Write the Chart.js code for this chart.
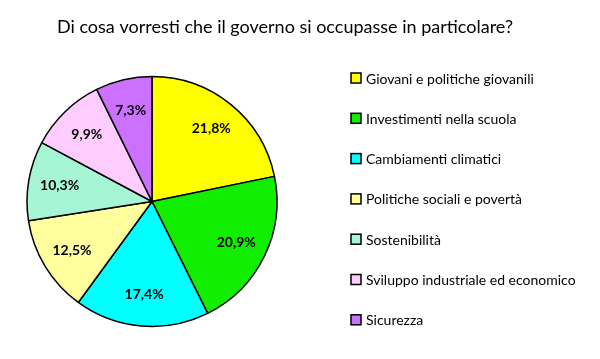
<!DOCTYPE html>
<html>
<head>
<meta charset="utf-8">
<script src="https://cdn.jsdelivr.net/npm/chart.js@4"></script>
<style>
  html, body { margin: 0; padding: 0; background: #fff; }
  #wrap { width: 600px; height: 359px; }
</style>
</head>
<body>
<div id="wrap"><canvas id="graficoTemi" width="600" height="359"></canvas></div>
<script>
const titolo = 'Di cosa vorresti che il governo si occupasse in particolare?';
const categorie = [
    'Giovani e politiche giovanili',
    'Investimenti nella scuola',
    'Cambiamenti climatici',
    'Politiche sociali e povertà',
    'Sostenibilità',
    'Sviluppo industriale ed economico',
    'Sicurezza'
];
const percentuali = [21.8, 20.9, 17.4, 12.5, 10.3, 9.9, 7.3];
const colori = ['#ffff00', '#11ee00', '#00ffff', '#ffff9e', '#a6f5d4', '#ffccff', '#cc70ff'];

const FONT = 'Lato, "Open Sans", sans-serif';

// titolo, etichette e legenda disegnati a mano
const testi = {
    id: 'testi',
    afterDraw(chart) {
        const ctx = chart.ctx;
        ctx.save();
        ctx.fillStyle = '#000';
        ctx.textBaseline = 'middle';

        // titolo
        ctx.font = '18px ' + FONT;
        ctx.textAlign = 'left';
        ctx.fillText(titolo, 57, 27);

        // percentuali dentro le fette
        const meta = chart.getDatasetMeta(0);
        ctx.font = 'bold 14px ' + FONT;
        ctx.textAlign = 'center';
        meta.data.forEach((arc, i) => {
            const p = arc.getProps(['x', 'y', 'startAngle', 'endAngle', 'outerRadius'], true);
            const a = (p.startAngle + p.endAngle) / 2;
            const r = p.outerRadius * 0.75;
            const txt = percentuali[i].toFixed(1).replace('.', ',') + '%';
            ctx.fillText(txt, p.x + Math.cos(a) * r, p.y + Math.sin(a) * r);
        });

        // legenda
        ctx.font = '14px ' + FONT;
        ctx.textAlign = 'left';
        categorie.forEach((c, i) => {
            const y = 78 + i * 40.3;
            ctx.fillStyle = colori[i];
            ctx.fillRect(351, y - 5, 10, 10);
            ctx.strokeStyle = '#000';
            ctx.lineWidth = 1.5;
            ctx.strokeRect(351, y - 5, 10, 10);
            ctx.fillStyle = '#000';
            ctx.fillText(c, 366, y + 1);
        });
        ctx.restore();
    }
};

new Chart(document.getElementById('graficoTemi').getContext('2d'), {
    type: 'pie',
    data: {
        labels: categorie,
        datasets: [{
            data: percentuali,
            backgroundColor: colori,
            borderColor: '#000',
            borderWidth: 1.5
        }]
    },
    options: {
        responsive: false,
        animation: false,
        radius: 125,
        layout: { padding: { top: 76, bottom: 32, left: 27, right: 323 } },
        plugins: {
            legend: { display: false },
            tooltip: { enabled: false }
        }
    },
    plugins: [testi]
});
</script>
</body>
</html>
